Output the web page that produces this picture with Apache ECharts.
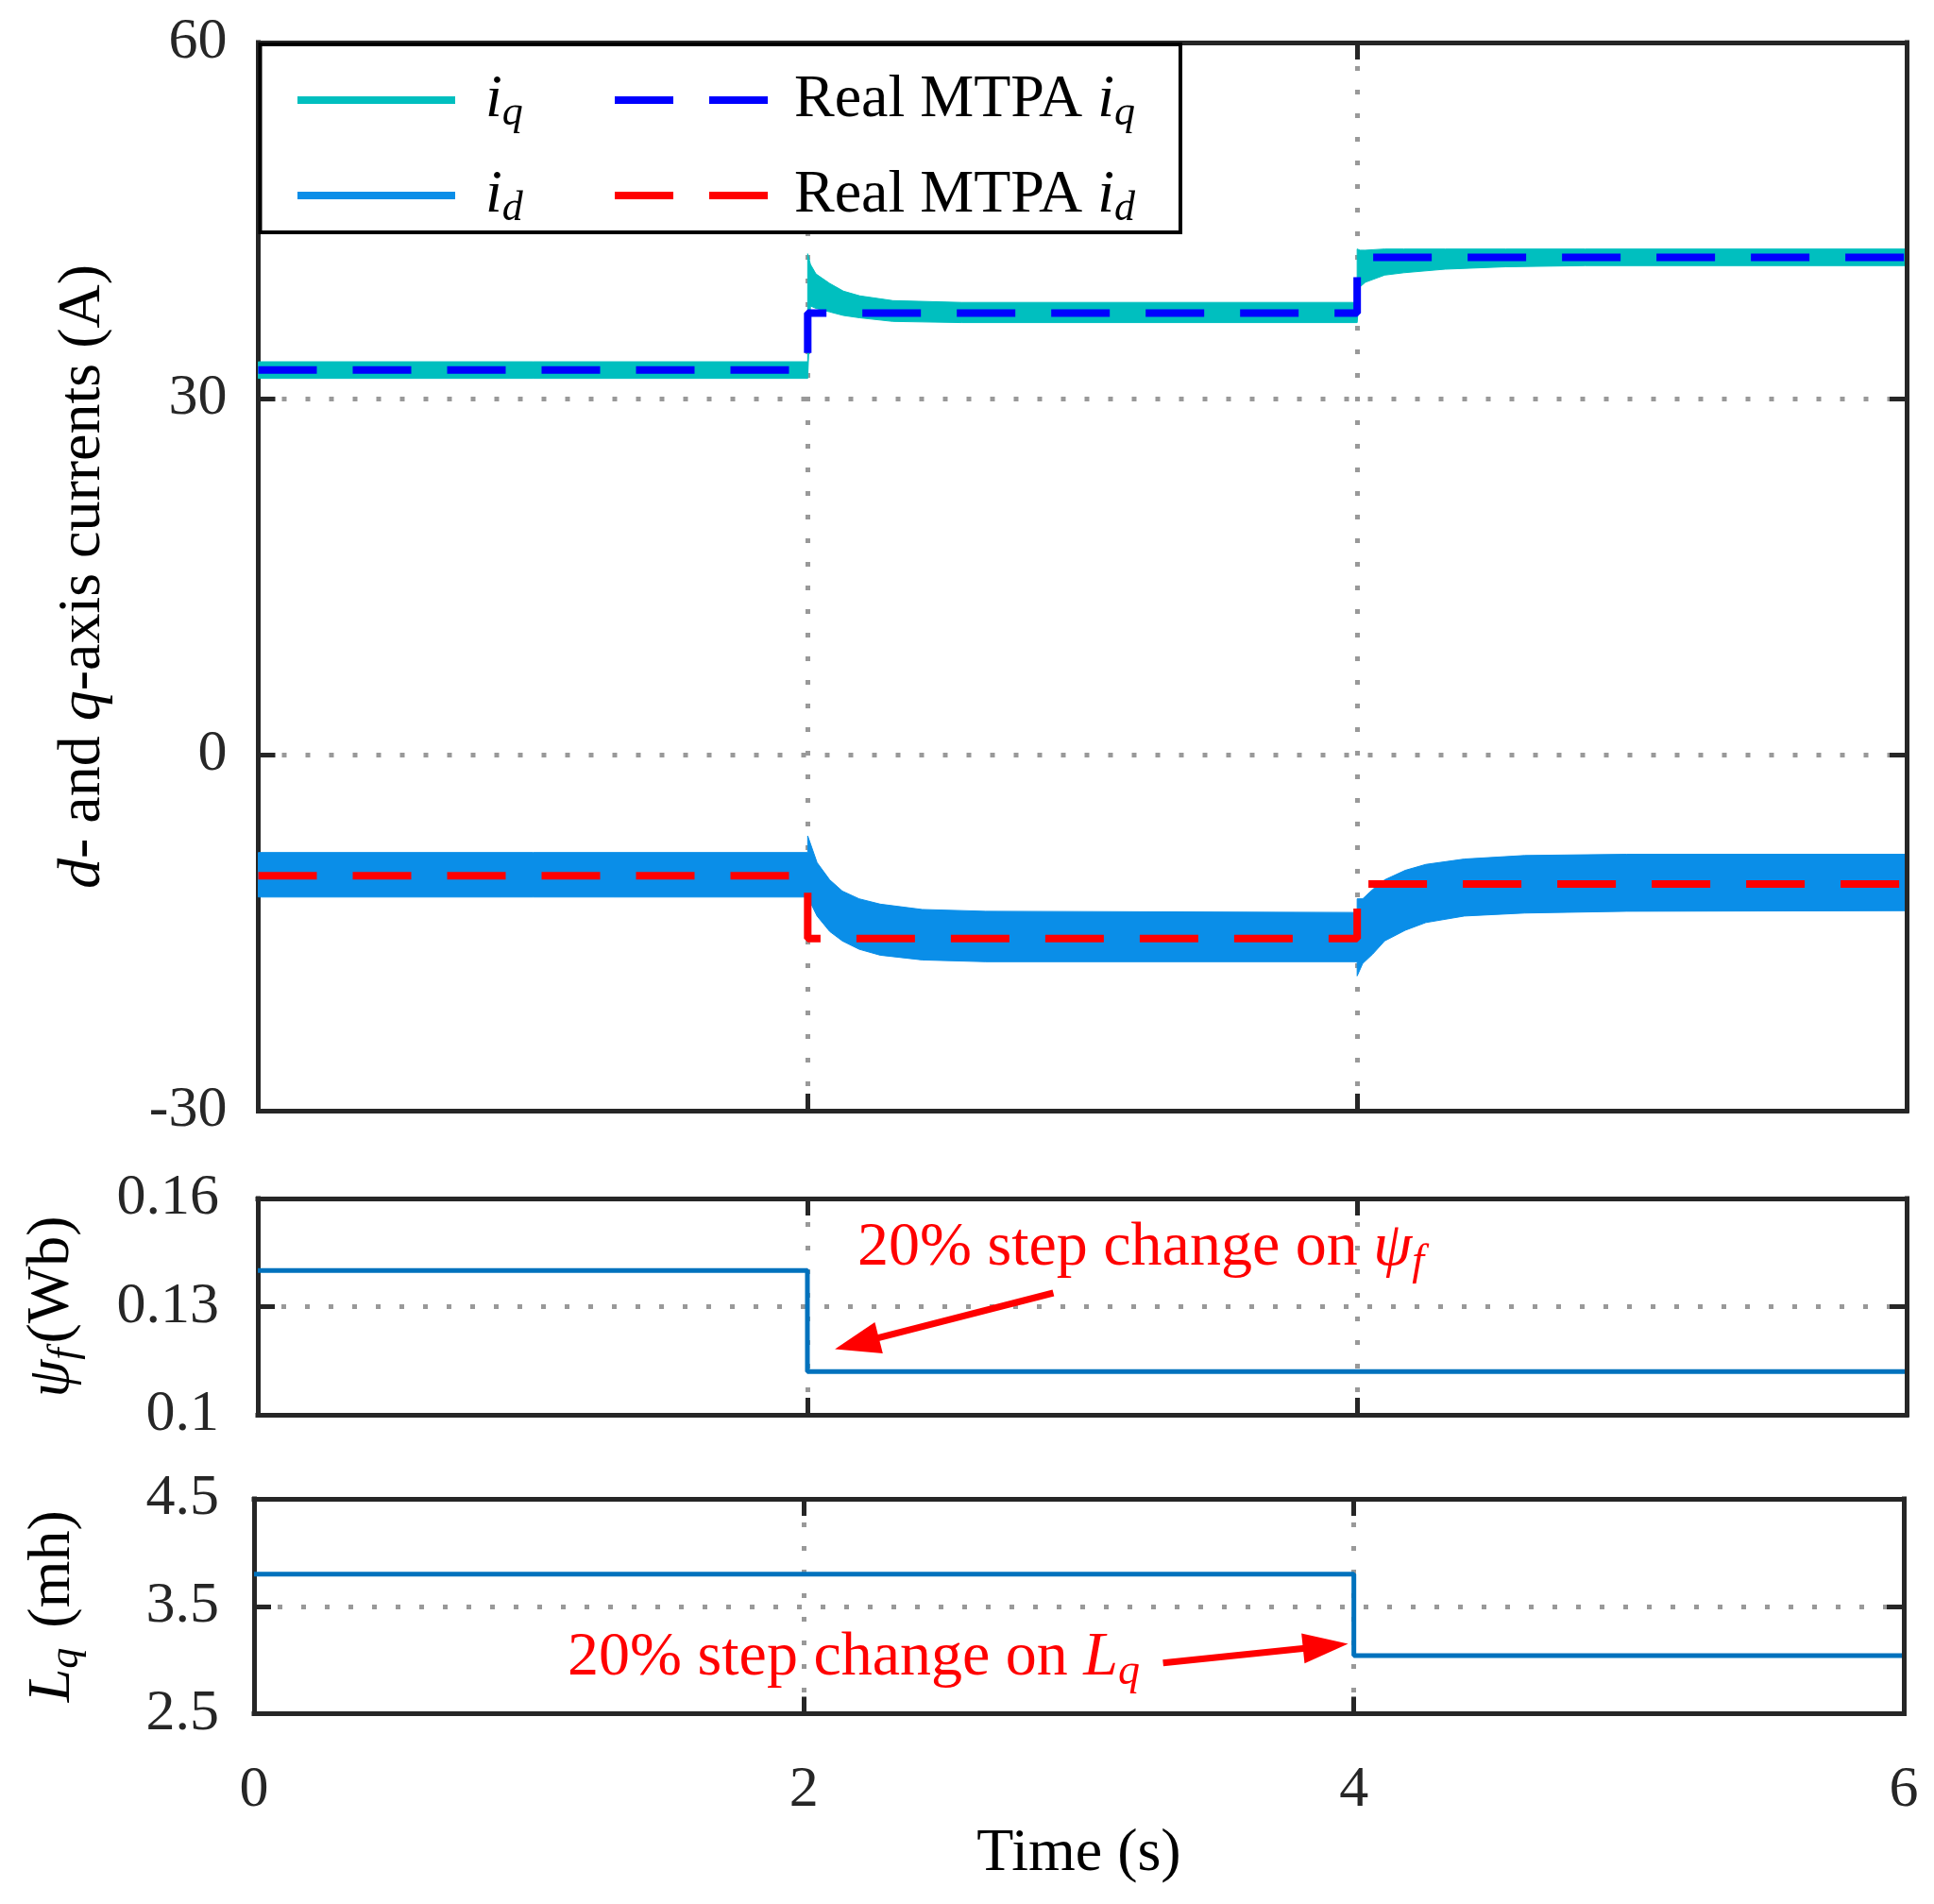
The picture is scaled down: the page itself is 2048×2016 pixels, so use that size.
<!DOCTYPE html>
<html lang="en">
<head>
<meta charset="UTF-8">
<title>d- and q-axis currents under parameter steps</title>
<script src="https://cdn.jsdelivr.net/npm/echarts@6/dist/echarts.min.js"></script>
<style>
  html, body { margin: 0; padding: 0; background: #fff; }
  #main { width: 2048px; height: 2016px; }
</style>
</head>
<body>
<div id="main"></div>
<script>
var FONT = "'Liberation Serif', 'Times New Roman', serif";
var AXIS_COLOR = '#262626';

// tick values
var xTicks = [0, 2, 4, 6];
var yTicks1 = [-30, 0, 30, 60];
var yTicks2 = [0.1, 0.13, 0.16];
var yTicks3 = [2.5, 3.5, 4.5];

// i_q trace, drawn as the band between its upper and lower envelope
var iqT  = [0, 2, 2, 2.01, 2.03, 2.08, 2.13, 2.19, 2.31, 2.56, 4, 4, 4.01, 4.03, 4.1, 4.17, 4.32, 4.54, 4.83, 6];
var iqHi = [33.1, 33.1, 42.2, 41.3, 40.5, 39.7, 39.05, 38.65, 38.25, 38.1, 38.1, 42.6, 42.5, 42.5, 42.6, 42.6, 42.6, 42.6, 42.6, 42.6];
var iqLo = [31.7, 31.7, 31.7, 37.8, 37.6, 37.3, 37.0, 36.8, 36.5, 36.4, 36.4, 36.4, 39.4, 39.8, 40.4, 40.6, 40.9, 41.1, 41.2, 41.2];

// i_d trace envelope
var idT  = [0, 2, 2, 2.034, 2.08, 2.126, 2.187, 2.264, 2.417, 2.648, 4, 4, 4.02, 4.057, 4.1, 4.175, 4.25, 4.39, 4.61, 4.98, 6];
var idHi = [-8.25, -8.25, -6.85, -9.1, -10.55, -11.5, -12.15, -12.6, -13.05, -13.2, -13.3, -12.15, -12.15, -11.35, -10.55, -9.75, -9.25, -8.8, -8.5, -8.4, -8.4];
var idLo = [-12.0, -12.0, -12.0, -13.6, -14.9, -15.7, -16.4, -16.9, -17.3, -17.45, -17.45, -18.65, -17.6, -16.8, -15.7, -14.8, -14.15, -13.6, -13.35, -13.2, -13.15];

// real MTPA references (steps)
var mtpaT  = [0, 2, 2, 4, 4, 6];
var mtpaIq = [32.4, 32.4, 37.2, 37.2, 41.9, 41.9];
var mtpaId = [-10.2, -10.2, -15.5, -15.5, -10.9, -10.9];

// parameters
var psiT = [0, 2, 2, 6];
var psiV = [0.14, 0.14, 0.112, 0.112];
var lqT  = [0, 4, 4, 6];
var lqV  = [3.8, 3.8, 3.04, 3.04];

// annotation anchors (data coords)
var psiNote  = { text: [3.213, 0.1461], from: [2.895, 0.1338], to: [2.18, 0.1198] };
var lqNote   = { text: [2.181, 3.014], from: [3.306, 2.973], to: [3.897, 3.129] };

function pairs(t, v) {
  return t.map(function (x, i) { return [x, v[i]]; });
}

function richSet(size, subSize, lh, subPad, subRight) {
  return {
    n:   { fontFamily: FONT, fontSize: size, lineHeight: lh },
    it:  { fontFamily: FONT, fontSize: size, fontStyle: 'italic', lineHeight: lh },
    sub: { fontFamily: FONT, fontSize: subSize, fontStyle: 'italic', lineHeight: lh, padding: [subPad, subRight, 0, 0] }
  };
}
var legendRich = richSet(64, 44, 70, 28, 0);
var nameRich = richSet(64, 44, 70, 28, 5);
var noteRich = richSet(66, 46, 72, 30, 0);

var legendText = {
  'iq': '{it|i}{sub|q}',
  'id': '{it|i}{sub|d}',
  'Real MTPA iq': '{n|Real MTPA }{it|i}{sub|q}',
  'Real MTPA id': '{n|Real MTPA }{it|i}{sub|d}'
};

function bandRender(color) {
  return function (params, api) {
    if (params.dataIndexInside !== 0) return null;
    var n = params.dataInsideLength;
    var pts = [];
    for (var i = 0; i < n; i++) pts.push(api.coord([api.value(0, i), api.value(1, i)]));
    for (var j = n - 1; j >= 0; j--) pts.push(api.coord([api.value(0, j), api.value(2, j)]));
    return {
      type: 'polygon',
      shape: { points: pts },
      style: { fill: color, stroke: color, lineWidth: 1 }
    };
  };
}

function bandSeries(name, color, t, hi, lo) {
  return {
    name: name, type: 'custom', xAxisIndex: 0, yAxisIndex: 0, z: 2,
    itemStyle: { color: color },
    encode: { x: 0, y: [1, 2] },
    data: t.map(function (x, i) { return [x, hi[i], lo[i]]; }),
    renderItem: bandRender(color)
  };
}

var lineAx = { show: true, onZero: false, lineStyle: { color: AXIS_COLOR, width: 5, cap: 'square' } };
var tickAx = { show: true, inside: true, length: 18, lineStyle: { color: AXIS_COLOR, width: 5 } };
var gridDots = { show: true, showMinLine: false, showMaxLine: false, lineStyle: { color: '#999', width: 5, type: [5, 20] } };

function xAxesFor(gi, withLabels) {
  var base = { type: 'value', gridIndex: gi, min: xTicks[0], max: xTicks[xTicks.length - 1], interval: xTicks[1] - xTicks[0] };
  var bottom = Object.assign({}, base, {
    position: 'bottom',
    axisLine: lineAx, axisTick: tickAx,
    axisLabel: { show: withLabels, margin: 50, color: AXIS_COLOR, fontFamily: FONT, fontSize: 62 },
    splitLine: gridDots
  });
  if (withLabels) {
    bottom.name = 'Time (s)';
    bottom.nameLocation = 'middle';
    bottom.nameGap = 117;
    bottom.nameTextStyle = { color: '#000', fontFamily: FONT, fontSize: 64 };
  }
  var top = Object.assign({}, base, {
    position: 'top',
    axisLine: lineAx, axisTick: tickAx,
    axisLabel: { show: false }, splitLine: { show: false }
  });
  return [bottom, top];
}

function yAxesFor(gi, ticks, name, nameGap, labelMargin) {
  var base = { type: 'value', gridIndex: gi, min: ticks[0], max: ticks[ticks.length - 1], interval: ticks[1] - ticks[0] };
  var left = Object.assign({}, base, {
    position: 'left',
    axisLine: lineAx, axisTick: tickAx,
    axisLabel: { margin: labelMargin, color: AXIS_COLOR, fontFamily: FONT, fontSize: 62,
      formatter: function (v) { return String(+v.toFixed(2)); } },
    splitLine: gridDots,
    name: name, nameLocation: 'middle', nameGap: nameGap,
    nameTextStyle: { color: '#000', fontFamily: FONT, fontSize: 64, rich: nameRich }
  });
  var right = Object.assign({}, base, {
    position: 'right', z: 10,
    axisLine: lineAx, axisTick: tickAx,
    axisLabel: { show: false }, splitLine: { show: false }
  });
  return [left, right];
}

function legendFor(name, isBand, left, rowY, pad) {
  var lg = {
    data: [isBand ? { name: name, icon: 'rect' } : { name: name }],
    left: left, top: rowY - 35, padding: 0,
    itemWidth: 167, itemHeight: 8,
    selectedMode: false, z: 60,
    lineStyle: { width: 8 },
    formatter: function (n) { return legendText[n]; },
    textStyle: { color: '#000', fontFamily: FONT, fontSize: 64, lineHeight: 70, padding: [0, 0, 0, pad], rich: legendRich }
  };
  // dashed entries: keep only the line, hide the centre marker
  if (!isBand) lg.itemStyle = { color: 'rgba(0,0,0,0)', borderWidth: 0, opacity: 0 };
  return lg;
}

var chart = echarts.init(document.getElementById('main'));

var option = {
  animation: false,
  backgroundColor: '#fff',
  grid: [
    { left: 273.5, right: 29, top: 45, height: 1131 },
    { left: 273, right: 29, top: 1269, height: 229 },
    { left: 269, right: 32, top: 1587, height: 227.5 }
  ],
  xAxis: [].concat(xAxesFor(0, false), xAxesFor(1, false), xAxesFor(2, true)),
  yAxis: [].concat(
    yAxesFor(0, yTicks1, '{it|d}- and {it|q}-axis currents (A)', 150, 33),
    yAxesFor(1, yTicks2, '{it|ψ}{sub|f}(Wb)', 183, 41),
    yAxesFor(2, yTicks3, '{it|L}{sub|q} (mh)', 178, 37)
  ),
  graphic: [{
    type: 'rect', z: 50, silent: true,
    shape: { x: 275.5, y: 47, width: 974.5, height: 199 },
    style: { fill: '#fff', stroke: '#000', lineWidth: 4 }
  }],
  legend: [
    legendFor('iq', true, 315, 105, 27),
    legendFor('id', true, 315, 206, 27),
    legendFor('Real MTPA iq', false, 647, 105, 18),
    legendFor('Real MTPA id', false, 647, 206, 18)
  ],
  series: [
    bandSeries('iq', '#00bfbf', iqT, iqHi, iqLo),
    bandSeries('id', '#0a8ee8', idT, idHi, idLo),
    {
      name: 'Real MTPA iq', type: 'line', xAxisIndex: 0, yAxisIndex: 0, z: 3,
      symbol: 'none', data: pairs(mtpaT, mtpaIq),
      itemStyle: { color: '#0000ff' },
      lineStyle: { color: '#0000ff', width: 8, type: [62, 38] }
    },
    {
      name: 'Real MTPA id', type: 'line', xAxisIndex: 0, yAxisIndex: 0, z: 3,
      symbol: 'none', data: pairs(mtpaT, mtpaId),
      itemStyle: { color: '#ff0000' },
      lineStyle: { color: '#ff0000', width: 8, type: [62, 38] }
    },
    {
      name: 'psi_f', type: 'line', xAxisIndex: 2, yAxisIndex: 2,
      symbol: 'none', data: pairs(psiT, psiV),
      lineStyle: { color: '#0072bd', width: 5 },
      markLine: {
        silent: true, symbol: ['none', 'triangle'], symbolSize: [34, 48],
        lineStyle: { color: '#ff0000', width: 7, type: 'solid' },
        label: { show: false },
        data: [[{ coord: psiNote.from }, { coord: psiNote.to }]]
      },
      markPoint: {
        silent: true, symbol: 'rect', symbolSize: 1, itemStyle: { color: 'rgba(0,0,0,0)' },
        label: { show: true, position: 'inside', color: '#ff0000', formatter: '{n|20% step change on }{it|ψ}{sub|f}', rich: noteRich },
        data: [{ coord: psiNote.text }]
      }
    },
    {
      name: 'L_q', type: 'line', xAxisIndex: 4, yAxisIndex: 4,
      symbol: 'none', data: pairs(lqT, lqV),
      lineStyle: { color: '#0072bd', width: 5 },
      markLine: {
        silent: true, symbol: ['none', 'triangle'], symbolSize: [32, 48],
        lineStyle: { color: '#ff0000', width: 7, type: 'solid' },
        label: { show: false },
        data: [[{ coord: lqNote.from }, { coord: lqNote.to }]]
      },
      markPoint: {
        silent: true, symbol: 'rect', symbolSize: 1, itemStyle: { color: 'rgba(0,0,0,0)' },
        label: { show: true, position: 'inside', color: '#ff0000', formatter: '{n|20% step change on }{it|L}{sub|q}', rich: noteRich },
        data: [{ coord: lqNote.text }]
      }
    }
  ]
};

chart.setOption(option);
</script>
</body>
</html>
